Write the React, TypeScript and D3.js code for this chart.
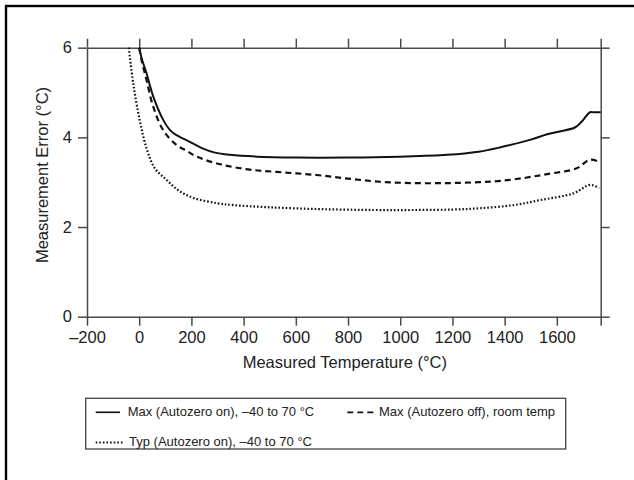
import { useRef, useEffect } from 'react';
import * as d3 from 'd3';

// temperature (°C), error (°C)
const maxAutozeroOn: [number, number][] = [
  [0, 6.0], [10, 5.75], [28, 5.43], [54, 4.91], [92, 4.39], [120, 4.15], [143, 4.05],
  [194, 3.9], [240, 3.76], [290, 3.66], [348, 3.61], [450, 3.57], [600, 3.55], [800, 3.55],
  [1000, 3.57], [1180, 3.61], [1300, 3.68], [1385, 3.78], [1500, 3.95], [1563, 4.07],
  [1669, 4.22], [1692, 4.33], [1727, 4.56], [1740, 4.56], [1768, 4.56],
];
const maxAutozeroOff: [number, number][] = [
  [0, 6.0], [10, 5.7], [28, 5.28], [54, 4.68], [92, 4.16], [143, 3.83], [182, 3.7],
  [220, 3.57], [310, 3.4], [424, 3.28], [550, 3.22], [680, 3.16], [800, 3.08], [923, 3.01],
  [1050, 2.98], [1180, 2.98], [1300, 3.0], [1385, 3.03], [1480, 3.1], [1563, 3.18],
  [1676, 3.31], [1727, 3.5], [1768, 3.44],
];
const typAutozeroOn: [number, number][] = [
  [-40, 6.0], [-23, 5.21], [3, 4.35], [30, 3.72], [60, 3.31], [105, 3.05], [150, 2.82],
  [207, 2.65], [300, 2.53], [360, 2.49], [500, 2.44], [692, 2.4], [900, 2.38], [1053, 2.38],
  [1200, 2.39], [1308, 2.42], [1436, 2.49], [1535, 2.6], [1663, 2.75], [1727, 2.94], [1762, 2.87],
];

const xTicks = [-200, 0, 200, 400, 600, 800, 1000, 1200, 1400, 1600, 1768];
const yTicks = [0, 2, 4, 6];
const xDomain = [-200, 1768];
const yDomain = [0, 6];

const legendItems = [
  { label: 'Max (Autozero on), –40 to 70 °C', dash: null },
  { label: 'Max (Autozero off), room temp', dash: '6,4' },
  { label: 'Typ (Autozero on), –40 to 70 °C', dash: '1.6,2' },
];

const FONT = '"Liberation Sans", Arial, Helvetica, sans-serif';
const W = 634, H = 480;
const M = { left: 87, top: 47.7, right: 600.7, bottom: 316.7 };

export default function App() {
  const svgRef = useRef<SVGSVGElement>(null);

  useEffect(() => {
    const svg = d3.select(svgRef.current);
    svg.selectAll('*').remove();

    const x = d3.scaleLinear().domain(xDomain).range([M.left, M.right]);
    const y = d3.scaleLinear().domain(yDomain).range([M.bottom, M.top]);
    const fmt = (d: number) => (d === 1768 ? '' : d < 0 ? '–' + Math.abs(d) : String(d));

    // outer frame (right/bottom run off the page)
    svg.append('rect').attr('x', 6).attr('y', 6).attr('width', 700).attr('height', 600)
      .attr('fill', 'none').attr('stroke', '#000').attr('stroke-width', 2.4);

    const styleAxis = (g: any) => {
      g.select('.domain').attr('stroke', '#4a4a4a').attr('stroke-width', 1.5);
      g.selectAll('.tick line').attr('stroke', '#4a4a4a').attr('stroke-width', 1.5);
      g.selectAll('.tick text').attr('fill', '#222').attr('font-size', 16.5).attr('font-family', FONT);
    };

    svg.append('g').attr('transform', `translate(0,${M.bottom})`)
      .call(d3.axisBottom(x).tickValues(xTicks).tickFormat(fmt as any).tickSize(9).tickSizeOuter(0).tickPadding(6))
      .call(styleAxis);
    svg.append('g').attr('transform', `translate(0,${M.top})`)
      .call(d3.axisTop(x).tickValues(xTicks).tickFormat(() => '').tickSize(9).tickSizeOuter(0))
      .call(styleAxis);
    svg.append('g').attr('transform', `translate(${M.left},0)`)
      .call(d3.axisLeft(y).tickValues(yTicks).tickFormat(d3.format('d') as any).tickSize(9).tickSizeOuter(0).tickPadding(6))
      .call(styleAxis);
    svg.append('g').attr('transform', `translate(${M.right},0)`)
      .call(d3.axisRight(y).tickValues(yTicks).tickFormat(() => '').tickSize(9).tickSizeOuter(0))
      .call(styleAxis);

    // axis titles
    svg.append('text').attr('x', (M.left + M.right) / 2 + 1).attr('y', 368)
      .attr('text-anchor', 'middle').attr('font-size', 16.5).attr('font-family', FONT).attr('fill', '#222')
      .text('Measured Temperature (°C)');
    svg.append('text').attr('transform', `translate(48,175) rotate(-90)`)
      .attr('text-anchor', 'middle').attr('font-size', 16.5).attr('font-family', FONT).attr('fill', '#222')
      .text('Measurement Error (°C)');

    const line = d3.line<[number, number]>().x(d => x(d[0])).y(d => y(d[1])).curve(d3.curveCatmullRom.alpha(0.5));
    const series = [maxAutozeroOn, maxAutozeroOff, typAutozeroOn];
    series.forEach((s, i) => {
      svg.append('path').datum(s).attr('d', line).attr('fill', 'none').attr('stroke', '#111')
        .attr('stroke-width', i === 0 ? 2 : 2.2)
        .attr('stroke-dasharray', legendItems[i].dash);
    });

    // legend
    const leg = svg.append('g');
    leg.append('rect').attr('x', 85.7).attr('y', 398.3).attr('width', 480).attr('height', 50.7)
      .attr('fill', 'none').attr('stroke', '#444').attr('stroke-width', 1.3);
    const pos = [
      { x1: 95.7, x2: 120, ly: 412.3, tx: 127.7, ty: 415.8 },
      { x1: 347.3, x2: 373.3, ly: 412.3, tx: 379, ty: 415.8 },
      { x1: 95.7, x2: 124, ly: 442.5, tx: 129, ty: 445.5 },
    ];
    legendItems.forEach((it, i) => {
      const p = pos[i];
      leg.append('line').attr('x1', p.x1).attr('x2', p.x2).attr('y1', p.ly).attr('y2', p.ly)
        .attr('stroke', '#111').attr('stroke-width', i === 0 ? 1.6 : 1.8)
        .attr('stroke-dasharray', it.dash);
      leg.append('text').attr('x', p.tx).attr('y', p.ty).attr('font-size', 13)
        .attr('font-family', FONT).attr('fill', '#222').text(it.label);
    });
  }, []);

  return (
    <svg ref={svgRef} width={W} height={H}
      style={{ position: 'absolute', left: 0, top: 0, background: '#fff' }} />
  );
}
